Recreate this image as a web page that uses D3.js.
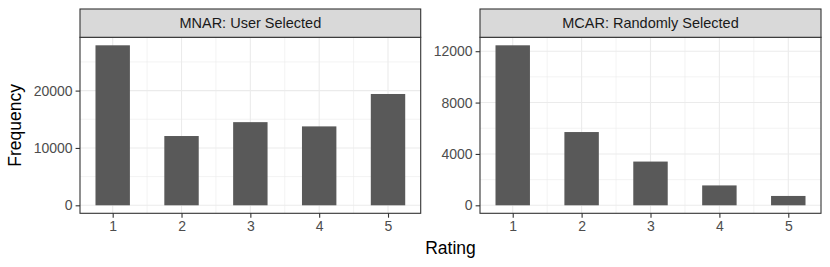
<!DOCTYPE html>
<html>
<head>
<meta charset="utf-8">
<script src="https://cdn.jsdelivr.net/npm/d3@7"></script>
<style>
  body { margin: 0; background: #fff; }
  text { font-family: "Liberation Sans", Arial, sans-serif; }
</style>
</head>
<body>
<svg id="chart"></svg>
<script>
const ratings = [1, 2, 3, 4, 5];
const mnarCounts = [27900, 12080, 14500, 13760, 19410];
const mcarCounts = [12460, 5705, 3406, 1548, 728];
const panelTitles = ['MNAR: User Selected', 'MCAR: Randomly Selected'];
const mnarTicks = [0, 10000, 20000];
const mcarTicks = [0, 4000, 8000, 12000];

const width = 830;
const height = 267;
const stripTop = 9, panelTop = 37.3, panelBottom = 213.3;

const panels = [
  { title: panelTitles[0], counts: mnarCounts, ticks: mnarTicks, minorTicks: [5000, 15000, 25000], x0: 80, x1: 420.7 },
  { title: panelTitles[1], counts: mcarCounts, ticks: mcarTicks, minorTicks: [2000, 6000, 10000], x0: 480, x1: 821 }
];

const svg = d3.select('#chart')
  .attr('width', width)
  .attr('height', height);

panels.forEach(p => {
  const maxV = d3.max(p.counts);
  const x = d3.scaleLinear().domain([0.525, 5.475]).range([p.x0, p.x1]);
  const y = d3.scaleLinear().domain([-0.05 * maxV, 1.05 * maxV]).range([panelBottom, panelTop]);

  const g = svg.append('g');

  // grid lines
  g.append('g').selectAll('line')
    .data(p.minorTicks)
    .join('line')
    .attr('x1', p.x0).attr('x2', p.x1)
    .attr('y1', d => y(d)).attr('y2', d => y(d))
    .attr('stroke', '#ebebeb').attr('stroke-width', 0.6);
  g.append('g').selectAll('line')
    .data([1.5, 2.5, 3.5, 4.5])
    .join('line')
    .attr('y1', panelTop).attr('y2', panelBottom)
    .attr('x1', d => x(d)).attr('x2', d => x(d))
    .attr('stroke', '#ebebeb').attr('stroke-width', 0.6);
  g.append('g').selectAll('line')
    .data(p.ticks)
    .join('line')
    .attr('x1', p.x0).attr('x2', p.x1)
    .attr('y1', d => y(d)).attr('y2', d => y(d))
    .attr('stroke', '#ebebeb').attr('stroke-width', 1.1);
  g.append('g').selectAll('line')
    .data(ratings)
    .join('line')
    .attr('y1', panelTop).attr('y2', panelBottom)
    .attr('x1', d => x(d)).attr('x2', d => x(d))
    .attr('stroke', '#ebebeb').attr('stroke-width', 1.1);

  // bars
  g.append('g').selectAll('rect')
    .data(ratings.map((r, i) => ({ r, v: p.counts[i] })))
    .join('rect')
    .attr('x', d => x(d.r - 0.25))
    .attr('width', d => x(d.r + 0.25) - x(d.r - 0.25))
    .attr('y', d => y(d.v))
    .attr('height', d => y(0) - y(d.v))
    .attr('fill', '#595959');

  // panel border
  g.append('rect')
    .attr('x', p.x0).attr('y', panelTop)
    .attr('width', p.x1 - p.x0).attr('height', panelBottom - panelTop)
    .attr('fill', 'none').attr('stroke', '#333333').attr('stroke-width', 1.1);

  // strip
  g.append('rect')
    .attr('x', p.x0).attr('y', stripTop)
    .attr('width', p.x1 - p.x0).attr('height', panelTop - stripTop)
    .attr('fill', '#d9d9d9').attr('stroke', '#333333').attr('stroke-width', 1.1);
  g.append('text')
    .attr('x', (p.x0 + p.x1) / 2).attr('y', (stripTop + panelTop) / 2)
    .attr('dy', '0.35em')
    .attr('text-anchor', 'middle')
    .attr('font-size', 14.5)
    .attr('fill', '#1a1a1a')
    .text(p.title);

  // axes
  const yAxis = g.append('g')
    .attr('transform', `translate(${p.x0},0)`)
    .call(d3.axisLeft(y).tickValues(p.ticks).tickSize(4.4).tickPadding(3).tickFormat(d3.format('d')));
  const xAxis = g.append('g')
    .attr('transform', `translate(0,${panelBottom})`)
    .call(d3.axisBottom(x).tickValues(ratings).tickSize(4.4).tickPadding(3).tickFormat(d3.format('d')));
  [yAxis, xAxis].forEach(a => {
    a.select('.domain').remove();
    a.selectAll('.tick line').attr('stroke', '#333333').attr('stroke-width', 1.1);
    a.selectAll('.tick text')
      .attr('fill', '#4d4d4d')
      .attr('font-size', 14)
      .attr('font-family', '"Liberation Sans", Arial, sans-serif');
  });
});

// axis titles
svg.append('text')
  .attr('x', (80 + 821) / 2).attr('y', 254)
  .attr('text-anchor', 'middle')
  .attr('font-size', 17.5)
  .attr('fill', '#000')
  .text('Rating');
svg.append('text')
  .attr('transform', `translate(21,${(panelTop + panelBottom) / 2}) rotate(-90)`)
  .attr('text-anchor', 'middle')
  .attr('font-size', 17.5)
  .attr('fill', '#000')
  .text('Frequency');
</script>
</body>
</html>
